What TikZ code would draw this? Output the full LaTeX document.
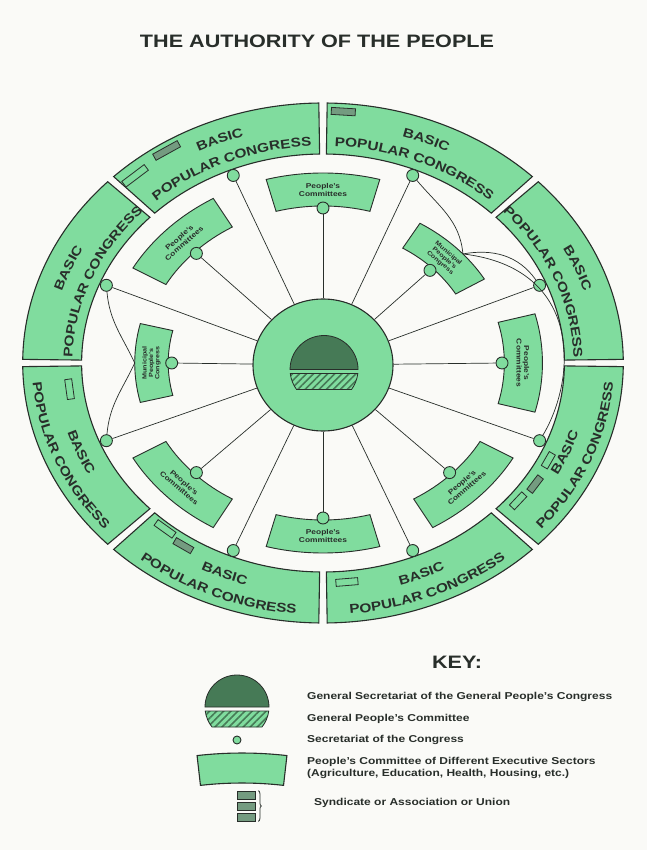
\documentclass[tikz,border=0pt]{standalone}
\usepackage{fontspec}
\setmainfont{Liberation Sans}[FakeStretch=1.2]
\usepackage{tikz}
\usetikzlibrary{shapes.geometric, arrows.meta, positioning, calc, patterns.meta, decorations.text, decorations.pathreplacing}

\definecolor{greenl}{RGB}{128,220,158}
\definecolor{greend}{RGB}{70,122,86}
\definecolor{ink}{RGB}{40,46,42}
\definecolor{paper}{RGB}{250,250,247}

\newcommand\bpcfont{\fontsize{12.8pt}{12.8pt}\selectfont\bfseries}

\tikzset{
  seg/.style={fill=greenl, draw=ink, line width=1.1pt},
  dot/.style={circle, draw=ink, fill=greenl, line width=0.9pt, minimum size=12pt, inner sep=0pt},
  spoke/.style={draw=ink, line width=0.7pt},
  union/.style={draw=ink, fill=greenl, line width=0.8pt, minimum height=7pt, inner sep=0pt},
  uniondark/.style={union, fill=greend!75},
  boxlabel/.style={font=\bfseries\fontsize{7pt}{7.5pt}\selectfont, align=center, text=ink, inner sep=0pt},
  keytext/.style={font=\bfseries\fontsize{10pt}{12pt}\selectfont, anchor=west, align=left, text=ink, inner sep=0pt}
}

\begin{document}
\begin{tikzpicture}[x=1pt, y=1pt]
\fill[paper] (-323,-487) rectangle (324,363);
\useasboundingbox (-323,-487) rectangle (324,363);

% Title
\node[font=\bfseries\fontsize{18pt}{18pt}\selectfont, text=ink] (title) at (-6,322) {THE AUTHORITY OF THE PEOPLE};

\begin{scope}[x=1.155pt]
% Basic Popular Congresses (outer ring)
\foreach \k in {0,...,7} {
    \pgfmathsetmacro\aa{45*\k+0.8}
    \pgfmathsetmacro\ab{45*\k+44.2}
    \path[seg] (\aa:260) arc[start angle=\aa, end angle=\ab, radius=260]
        -- (\ab:209) arc[start angle=\ab, end angle=\aa, radius=209] -- cycle;
}
\foreach \k in {0,...,3} {
    \pgfmathsetmacro\aa{45*\k-6}
    \pgfmathsetmacro\ab{45*\k+51}
    \path[decorate, decoration={text along path, text align=center, text color=ink, text={|\bpcfont|BASIC}}]
        (\ab:237) arc[start angle=\ab, end angle=\aa, radius=237];
    \path[decorate, decoration={text along path, text align=center, text color=ink, text={|\bpcfont|POPULAR CONGRESS}}]
        (\ab:217) arc[start angle=\ab, end angle=\aa, radius=217];
}
\foreach \k in {4,...,7} {
    \pgfmathsetmacro\aa{45*\k-6}
    \pgfmathsetmacro\ab{45*\k+51}
    \path[decorate, decoration={text along path, text align=center, text color=ink, text={|\bpcfont|BASIC}}]
        (\aa:232) arc[start angle=\aa, end angle=\ab, radius=232];
    \path[decorate, decoration={text along path, text align=center, text color=ink, text={|\bpcfont|POPULAR CONGRESS}}]
        (\aa:252) arc[start angle=\aa, end angle=\ab, radius=252];
}

% Syndicates in the congresses
\foreach \a/\r/\w/\s [count=\i] in {86/252/24/uniondark, 131/248/28/union, 122.5/252/28/uniondark,
    186.8/221/20/union, 230.5/215/22/union, 236.5/219/20/uniondark, 275.4/220/22/union,
    320.8/218/18/union, 326.6/220/18/uniondark, 333.5/218/16/union} {
    \pgfmathsetmacro\rot{atan2(1.155*sin(\a),cos(\a))-90}
    \node[\s, minimum width=\w pt, rotate=\rot] (u\i) at (\a:\r) {};
}

% People's Committees
\foreach \a/\r/\n in {0/-90/1, 90/0/2, 135/41/3, 225/-41/4, 270/0/5, 315/41/6} {
    \path[seg, line width=0.9pt] ({\a-15}:157) arc[start angle=\a-15, end angle=\a+15, radius=157]
        -- ({\a+15}:190) arc[start angle=\a+15, end angle=\a-15, radius=190] -- cycle;
    \node[boxlabel, rotate=\r] (pc\n) at (\a:173) {People's\\Committees};
    \node[dot] (pcd\n) at (\a:155) {};
}

% Municipal People's Congresses
\foreach \a/\r/\n in {45/-41/1, 180/90/2} {
    \path[seg, line width=0.9pt] ({\a-14}:134) arc[start angle=\a-14, end angle=\a+14, radius=134]
        -- ({\a+14}:163) arc[start angle=\a+14, end angle=\a-14, radius=163] -- cycle;
    \node[boxlabel, font=\bfseries\fontsize{6pt}{6.4pt}\selectfont, rotate=\r] (mc\n) at (\a:148.5) {Municipal\\People's\\Congress};
    \node[dot] (mcd\n) at (\a:131) {};
}

% Secretariats of the congresses
\foreach \k in {0,...,7} {
    \node[dot] (bd\k) at ({22.5+45*\k}:203) {};
}

% General People's Congress
\node[ellipse, seg, minimum width=140pt, minimum height=132pt] (hub) at (0,-2) {};
\coordinate (gs1) at (0.9,-6.5);

\foreach \n in {1,...,6} \draw[spoke] (hub) -- (pcd\n);
\foreach \n in {1,2} \draw[spoke] (hub) -- (mcd\n);
\foreach \k in {0,...,7} \draw[spoke] (hub) -- (bd\k);

% links of the municipal congresses
\coordinate (mj1) at (42:163);
\coordinate (mj2) at (180:163);
\draw[spoke] (mj1) to[out=95, in=-50] (bd1);
\draw[spoke] (mj1) to[out=10, in=125] (bd0);
\draw[spoke] (mj1) .. controls (225,95) and (220,-15) .. (bd7);
\draw[spoke] (mj2) to[out=115, in=-85] (bd3);
\draw[spoke] (mj2) to[out=-115, in=85] (bd4);
\end{scope}

% Key
\node[font=\bfseries\fontsize{18pt}{18pt}\selectfont, text=ink] (keyhead) at (134,-299) {KEY:};
\coordinate (gs2) at (-86,-344);

\foreach \c/\rr in {gs1/34, gs2/32} {
    \begin{scope}[shift={(\c)}]
    \pgfmathsetmacro\ta{asin(4/\rr)}
    \pgfmathsetmacro\tb{asin(20/\rr)}
    \path[fill=greend, draw=ink, line width=0.8pt] (-\rr,0) arc[start angle=180, end angle=0, radius=\rr] -- cycle;
    \path[preaction={fill=greenl}, pattern={Lines[angle=45, distance=5pt, line width=1.6pt]}, pattern color=greend,
        draw=ink, line width=0.8pt]
        (-\ta:\rr) arc[start angle=-\ta, end angle=-\tb, radius=\rr]
        -- ({180+\tb}:\rr) arc[start angle=180+\tb, end angle=180+\ta, radius=\rr] -- cycle;
    \end{scope}
}

\node[dot, minimum size=8pt] (kdot) at (-86,-377) {};
\begin{scope}[shift={(-81,-787)}]
\path[seg] (83.5:397) arc[start angle=83.5, end angle=96.5, radius=397]
    -- (96.5:367) arc[start angle=96.5, end angle=83.5, radius=367] -- cycle;
\end{scope}
\foreach \y [count=\i] in {-432,-443,-454} {
    \node[uniondark, minimum width=18pt, minimum height=8pt] (ks\i) at (-77,\y) {};
}
\draw[ink, line width=0.8pt, decorate, decoration={brace, amplitude=3pt}]
    ([xshift=3pt]ks1.north east) -- ([xshift=3pt]ks3.south east);

\node[keytext] (k1) at (-16,-334) {General Secretariat of the General People's Congress};
\node[keytext] (k2) at (-16,-356) {General People's Committee};
\node[keytext] (k3) at (-16,-377) {Secretariat of the Congress};
\node[keytext] (k4) at (-16,-405) {People's Committee of Different Executive Sectors\\(Agriculture, Education, Health, Housing, etc.)};
\node[keytext] (k5) at (-9,-440) {Syndicate or Association or Union};
\end{tikzpicture}
\end{document}
